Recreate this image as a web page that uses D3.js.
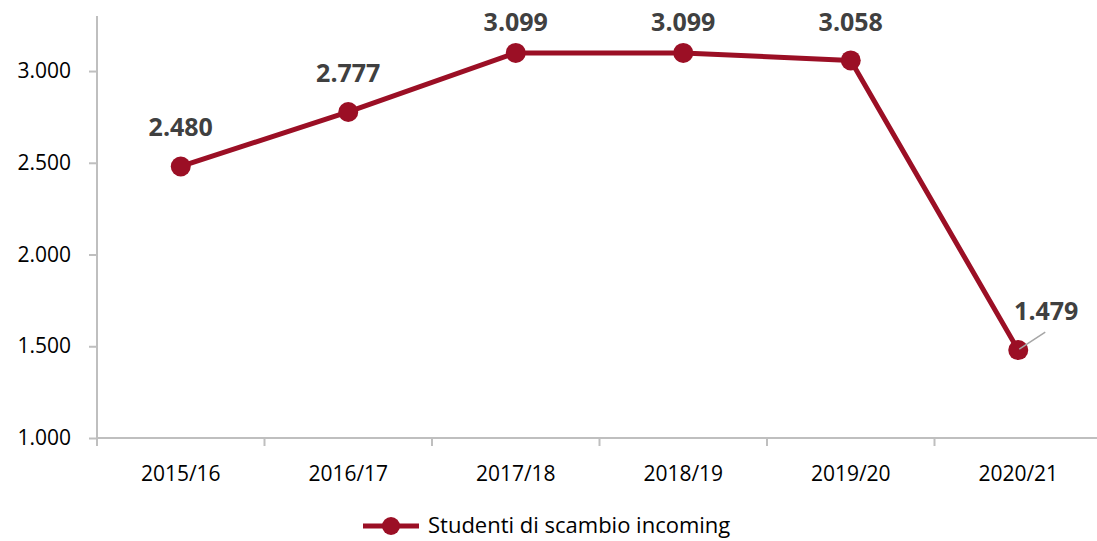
<!DOCTYPE html>
<html>
<head>
<meta charset="utf-8">
<script src="https://cdn.jsdelivr.net/npm/d3@7"></script>
<style>
  body { margin: 0; background: #fff; }
  svg { display: block; }
  svg text { font-family: "Open Sans", "Liberation Sans", sans-serif; }
</style>
</head>
<body>
<div id="chart"></div>
<script>
// data
var years = ["2015/16", "2016/17", "2017/18", "2018/19", "2019/20", "2020/21"]
var students = [2480, 2777, 3099, 3099, 3058, 1479]
var yTicks = [1000, 1500, 2000, 2500, 3000]
var seriesName = "Studenti di scambio incoming"

var width = 1097,
    height = 541,
    margin = {top: 16, left: 97, right: -5, bottom: 103}

var red = "#9b0f25"

var svg = d3.select("#chart")
  .append("svg")
    .attr("width", width)
    .attr("height", height)

var x = d3.scaleBand()
  .domain(years)
  .range([margin.left, width - margin.right])

var y = d3.scaleLinear()
  .domain([1000, 3300])
  .range([height - margin.bottom, margin.top])

var fmt = function(v) { return d3.format(",")(v).replace(/,/g, ".") }

// y axis
var yAxis = svg.append("g")
  .attr("transform", "translate(" + margin.left + ",0)")
  .call(d3.axisLeft(y).tickValues(yTicks).tickSize(8).tickPadding(18).tickFormat(fmt))
  .attr("font-family", null)
  .attr("font-size", null)
yAxis.select(".domain").attr("stroke", "#bfbfbf").attr("stroke-width", 2)
  .attr("d", "M0," + y(1000) + "V" + margin.top)
yAxis.selectAll(".tick line").attr("stroke", "#bfbfbf").attr("stroke-width", 2)
yAxis.selectAll(".tick text").attr("fill", "#000").style("font-size", "21px")

// x axis
var xAxis = svg.append("g")
  .attr("transform", "translate(0," + y(1000) + ")")
  .call(d3.axisBottom(x).tickSize(0).tickPadding(28))
  .attr("font-family", null)
  .attr("font-size", null)
xAxis.select(".domain").attr("stroke", "#bfbfbf").attr("stroke-width", 2)
  .attr("d", "M" + margin.left + ",0H" + (width - margin.right))
xAxis.selectAll(".tick text").attr("fill", "#000").style("font-size", "21px")
// tick marks between categories
xAxis.selectAll(".sep")
  .data(years)
  .enter()
  .append("line")
    .attr("x1", function(d) { return x(d) })
    .attr("x2", function(d) { return x(d) })
    .attr("y1", 0)
    .attr("y2", 8)
    .attr("stroke", "#bfbfbf")
    .attr("stroke-width", 2)

var cx = function(i) { return x(years[i]) + x.bandwidth() / 2 }

// line
var line = d3.line()
  .x(function(d, i) { return cx(i) })
  .y(function(d) { return y(d) })

svg.append("path")
  .datum(students)
  .attr("d", line)
  .attr("fill", "none")
  .attr("stroke", red)
  .attr("stroke-width", 5)
  .attr("stroke-linejoin", "round")

svg.selectAll(".dot")
  .data(students)
  .enter()
  .append("circle")
    .attr("cx", function(d, i) { return cx(i) })
    .attr("cy", function(d) { return y(d) })
    .attr("r", 10)
    .attr("fill", red)

// leader line for the last label
var last = students.length - 1
svg.append("line")
  .attr("x1", cx(last) + 1)
  .attr("y1", y(students[last]) - 1)
  .attr("x2", cx(last) + 27)
  .attr("y2", y(students[last]) - 18)
  .attr("stroke", "#a6a6a6")
  .attr("stroke-width", 1.5)

// data labels (pushed down when they would leave the chart, like excel does)
svg.selectAll(".lbl")
  .data(students)
  .enter()
  .append("text")
    .attr("x", function(d, i) { return i == last ? cx(i) + 28 : cx(i) })
    .attr("y", function(d, i) { return i == last ? y(d) - 30 : Math.max(y(d) - 30, 31) })
    .attr("text-anchor", "middle")
    .attr("fill", "#404040")
    .style("font-size", "25px")
    .style("font-weight", "bold")
    .text(fmt)

// legend
var lg = svg.append("g").attr("transform", "translate(363,526)")
lg.append("line").attr("x1", 0).attr("x2", 56).attr("stroke", red).attr("stroke-width", 5)
lg.append("circle").attr("cx", 28).attr("r", 9).attr("fill", red)
lg.append("text")
  .attr("x", 65)
  .attr("dy", "0.33em")
  .attr("fill", "#000")
  .style("font-size", "22px")
  .text(seriesName)
</script>
</body>
</html>
